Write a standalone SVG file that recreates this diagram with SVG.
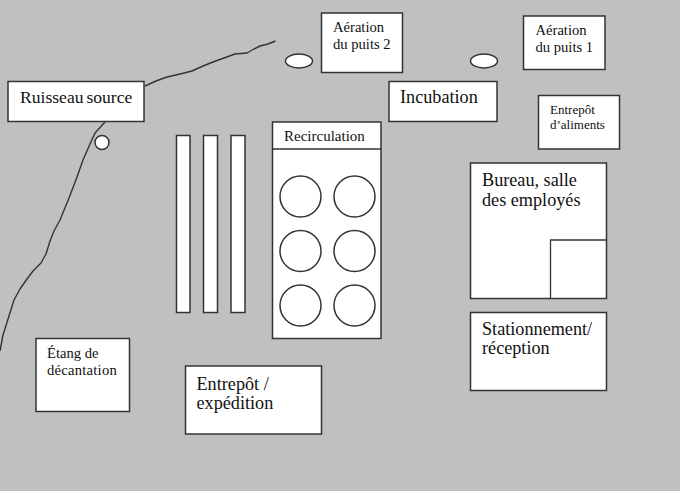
<svg xmlns="http://www.w3.org/2000/svg" width="680" height="491" viewBox="0 0 680 491">
<style>
.s{fill:#fff;stroke:#333;stroke-width:1.5}
.c{fill:none;stroke:#333;stroke-width:1.4;stroke-linejoin:round}
.l{fill:none;stroke:#333;stroke-width:1.3}
text{font-family:"Liberation Serif","Times New Roman",serif;fill:#111}
.f12{font-size:13px}.f13{font-size:14.600px}.f14{font-size:15px}.f17{font-size:18.200px}
</style>
<rect width="680" height="491" fill="#c0c0c0"/>
<g id="connectors">
<path class="c" d="M145,86 L156,81 L167,77 L180,74 L192,71 L203,66 L213,62 L224,58 L235,54 L247,53 L254,49 L260,46 L268,44 L275.500,41"/>
<path class="c" d="M105,122 L95,133 L90,144 L83,160 L77,177 L69,198 L60,220 L54,231 L50,241 L46,254 L41,263 L33,271 L27,279 L20,289 L14,300 L9,316 L3,335 L0,351"/>
</g>
<g id="ruisseau"><rect class="s" x="8" y="81.500" width="136" height="40"/><text class="f17" x="20" y="103" style="font-size:17.600px" word-spacing="-1.500">Ruisseau source</text></g>
<g id="puits-source"><circle class="s" cx="102" cy="142.500" r="7"/></g>
<g id="puits-2"><ellipse class="s" cx="299" cy="61" rx="13.500" ry="7"/></g>
<g id="puits-1"><ellipse class="s" cx="484" cy="61" rx="13.500" ry="7"/></g>
<g id="aeration-2"><rect class="s" x="321.500" y="13" width="81" height="59.500"/><text class="f13" x="333" y="32">Aération</text><text class="f13" x="333" y="49">du puits 2</text></g>
<g id="aeration-1"><rect class="s" x="523.500" y="16" width="81.500" height="53.500"/><text class="f13" x="535.500" y="35">Aération</text><text class="f13" x="535.500" y="52">du puits 1</text></g>
<g id="incubation"><rect class="s" x="389" y="81.500" width="108" height="40"/><text class="f17" x="400" y="103">Incubation</text></g>
<g id="entrepot-aliments"><rect class="s" x="538.500" y="95.500" width="81" height="53.500"/><text class="f12" x="550" y="114">Entrepôt</text><text class="f12" x="550" y="128.500">d’aliments</text></g>
<g id="bassin-1"><rect class="s" x="176.500" y="135.500" width="13.500" height="177"/></g>
<g id="bassin-2"><rect class="s" x="203.500" y="135.500" width="14" height="177"/></g>
<g id="bassin-3"><rect class="s" x="231" y="135.500" width="14" height="177"/></g>
<g id="recirculation"><rect class="s" x="272.500" y="122" width="108.500" height="216.500"/><path class="l" d="M272.500,149H381"/><text class="f14" x="284" y="141">Recirculation</text>
<circle class="s" cx="300.500" cy="196.500" r="20.500"/><circle class="s" cx="354.500" cy="196.500" r="20.500"/><circle class="s" cx="300.500" cy="251" r="20.500"/><circle class="s" cx="354.500" cy="251" r="20.500"/><circle class="s" cx="300.500" cy="305.500" r="20.500"/><circle class="s" cx="354.500" cy="305.500" r="20.500"/></g>
<g id="bureau"><rect class="s" x="470.500" y="163" width="136" height="135.500"/><path class="l" d="M550.500,298.500V240H606.500"/><text class="f17" x="482" y="186">Bureau, salle</text><text class="f17" x="482" y="206">des employés</text></g>
<g id="stationnement"><rect class="s" x="470.500" y="312.500" width="136" height="78"/><text class="f17" x="482" y="335">Stationnement/</text><text class="f17" x="482" y="354">réception</text></g>
<g id="etang"><rect class="s" x="36" y="338.500" width="93.500" height="73"/><text class="f13" x="47" y="358">Étang de</text><text class="f13" x="47" y="375" letter-spacing="0.250">décantation</text></g>
<g id="entrepot-expedition"><rect class="s" x="185.500" y="366" width="136" height="68"/><text class="f17" x="196.500" y="390">Entrepôt /</text><text class="f17" x="196.500" y="409">expédition</text></g>
</svg>
